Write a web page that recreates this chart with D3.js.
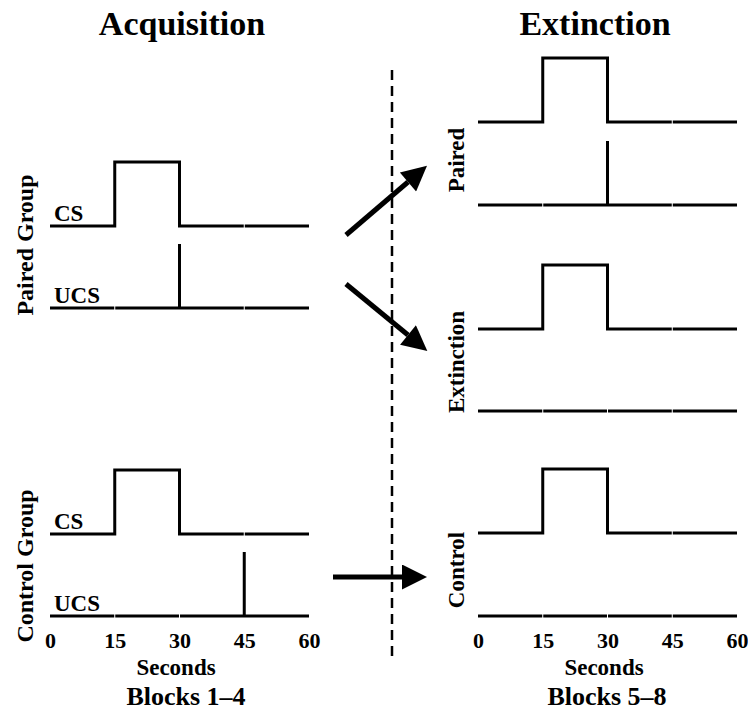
<!DOCTYPE html>
<html>
<head>
    <title>Acquisition / Extinction</title>
    <script src="https://d3js.org/d3.v7.min.js"></script>
    <style>
        body { margin: 0; background: #fff; }
        text { font-family: "Liberation Serif", "Times New Roman", serif; font-weight: bold; fill: #000; }
    </style>
</head>
<body>
    <svg width="748" height="713"></svg>
    <script>
        // Données (secondes)
        const tickValues = [0, 15, 30, 45, 60];
        const csOnset = 15;
        const csOffset = 30;
        const ucsPaired = 30;
        const ucsControl = 45;

        // traces : [temps, niveau]
        const csTrace = [[0, 0], [csOnset, 0], [csOnset, 1], [csOffset, 1], [csOffset, 0], [60, 0]];
        const ucsPairedTrace = [[0, 0], [ucsPaired, 0], [ucsPaired, 1], [ucsPaired, 0], [60, 0]];
        const ucsControlTrace = [[0, 0], [ucsControl, 0], [ucsControl, 1], [ucsControl, 0], [60, 0]];
        const flatTrace = [[0, 0], [60, 0]];

        const svg = d3.select("svg");
        const rowH = 64;

        const xLeft = d3.scaleLinear().domain([0, 60]).range([50, 309]);
        const xRight = d3.scaleLinear().domain([0, 60]).range([478, 737]);

        // Lignes de chaque panneau
        const rows = [
            { x: xLeft, base: 226, trace: csTrace, label: "CS" },
            { x: xLeft, base: 308, trace: ucsPairedTrace, label: "UCS" },
            { x: xLeft, base: 534, trace: csTrace, label: "CS" },
            { x: xLeft, base: 616, trace: ucsControlTrace, label: "UCS" },
            { x: xRight, base: 122, trace: csTrace },
            { x: xRight, base: 205, trace: ucsPairedTrace },
            { x: xRight, base: 329, trace: csTrace },
            { x: xRight, base: 411, trace: flatTrace },
            { x: xRight, base: 533, trace: csTrace },
            { x: xRight, base: 616, trace: flatTrace }
        ];

        rows.forEach(r => {
            const y = d3.scaleLinear().domain([0, 1]).range([r.base, r.base - rowH]);
            const line = d3.line().x(d => r.x(d[0])).y(d => y(d[1]));
            svg.append("path")
                .attr("d", line(r.trace))
                .attr("fill", "none")
                .attr("stroke", "#000")
                .attr("stroke-width", 3)
                .attr("stroke-linejoin", "miter");

            // petites coupures blanches aux graduations
            const events = r.trace.map(d => d[0]);
            svg.selectAll(null)
                .data([15, 30, 45].filter(t => !events.includes(t)))
                .enter()
                .append("line")
                .attr("x1", d => r.x(d)).attr("x2", d => r.x(d))
                .attr("y1", r.base - 2).attr("y2", r.base + 2)
                .attr("stroke", "#fff")
                .attr("stroke-width", 1);

            if (r.label) {
                svg.append("text")
                    .attr("x", 54)
                    .attr("y", r.base - 5)
                    .attr("font-size", 23)
                    .text(r.label);
            }
        });

        // Axes du bas
        [xLeft, xRight].forEach((x, i) => {
            const g = svg.append("g")
                .attr("transform", "translate(0,616)")
                .call(d3.axisBottom(x).tickValues(tickValues).tickSize(0).tickPadding(16));
            g.select(".domain").remove();
            g.selectAll("text")
                .attr("font-size", 22)
                .attr("font-family", "Liberation Serif, serif")
                .attr("font-weight", "bold")
                .attr("fill", "#000");
            svg.append("text")
                .attr("x", i === 0 ? 176 : 604)
                .attr("y", 675)
                .attr("text-anchor", "middle")
                .attr("font-size", 23)
                .text("Seconds");
        });

        // Titres
        svg.append("text").attr("x", 182).attr("y", 35).attr("text-anchor", "middle")
            .attr("font-size", 34).text("Acquisition");
        svg.append("text").attr("x", 595).attr("y", 35).attr("text-anchor", "middle")
            .attr("font-size", 34).text("Extinction");
        svg.append("text").attr("x", 186).attr("y", 705).attr("text-anchor", "middle")
            .attr("font-size", 26).text("Blocks 1–4");
        svg.append("text").attr("x", 607).attr("y", 705).attr("text-anchor", "middle")
            .attr("font-size", 26).text("Blocks 5–8");

        // Étiquettes verticales
        const vLabels = [
            { x: 33, y: 245, t: "Paired Group", s: 24 },
            { x: 33, y: 566, t: "Control Group", s: 24 },
            { x: 464, y: 160, t: "Paired", s: 23 },
            { x: 464, y: 362, t: "Extinction", s: 23 },
            { x: 464, y: 570, t: "Control", s: 23 }
        ];
        svg.selectAll("text.vlab")
            .data(vLabels)
            .enter()
            .append("text")
            .attr("class", "vlab")
            .attr("transform", d => `translate(${d.x},${d.y}) rotate(-90)`)
            .attr("text-anchor", "middle")
            .attr("font-size", d => d.s)
            .text(d => d.t);

        // Ligne pointillée
        svg.append("line")
            .attr("x1", 392).attr("x2", 392)
            .attr("y1", 70).attr("y2", 660)
            .attr("stroke", "#000")
            .attr("stroke-width", 2.5)
            .attr("stroke-dasharray", "10,6");

        // Flèches
        svg.append("defs").append("marker")
            .attr("id", "head")
            .attr("viewBox", "0 0 10 10")
            .attr("refX", 0).attr("refY", 5)
            .attr("markerWidth", 5.5).attr("markerHeight", 5)
            .attr("markerUnits", "strokeWidth")
            .attr("orient", "auto")
            .append("path")
            .attr("d", "M0,0 L10,5 L0,10 Z")
            .attr("fill", "#000");

        const arrows = [
            [[346, 235], [408, 182]],
            [[346, 284], [408, 335]],
            [[333, 577], [402, 577]]
        ];
        svg.selectAll("line.arrow")
            .data(arrows)
            .enter()
            .append("line")
            .attr("class", "arrow")
            .attr("x1", d => d[0][0]).attr("y1", d => d[0][1])
            .attr("x2", d => d[1][0]).attr("y2", d => d[1][1])
            .attr("stroke", "#000")
            .attr("stroke-width", 5)
            .attr("marker-end", "url(#head)");
    </script>
</body>
</html>
